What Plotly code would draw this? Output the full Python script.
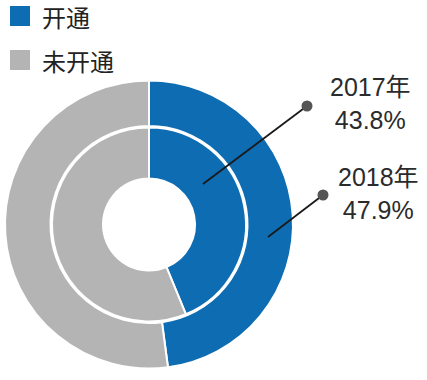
import plotly.graph_objects as go

labels = ["开通", "未开通"]
values_2017 = [43.8, 56.2]
values_2018 = [47.9, 52.1]
years = ["2017年", "2018年"]
colors = ["#0E6CB2", "#B4B4B4"]

W, H = 427, 380
cx, cy = 149, 224.5
r_out, r_mid, r_hole = 144, 97, 46


def px_x(x):
    return x / W


def px_y(y):
    return 1 - y / H


fig = go.Figure()
fig.add_trace(go.Pie(
    labels=labels, values=values_2018, sort=False, direction="clockwise", rotation=0,
    hole=(r_mid + 1.5) / r_out, textinfo="none", hoverinfo="label+percent",
    marker=dict(colors=colors, line=dict(color="white", width=2)),
    domain=dict(x=[px_x(cx - r_out), px_x(cx + r_out)], y=[px_y(cy + r_out), px_y(cy - r_out)]),
    showlegend=False, name="2018",
))
fig.add_trace(go.Pie(
    labels=labels, values=values_2017, sort=False, direction="clockwise", rotation=0,
    hole=r_hole / r_mid, textinfo="none", hoverinfo="label+percent",
    marker=dict(colors=colors, line=dict(color="white", width=2)),
    domain=dict(x=[px_x(cx - r_mid), px_x(cx + r_mid)], y=[px_y(cy + r_mid), px_y(cy - r_mid)]),
    showlegend=False, name="2017",
))

font_fam = "Liberation Sans, Arial, Noto Sans CJK SC, sans-serif"
shapes = []
annotations = []

# legend
for i, (lab, col) in enumerate(zip(labels, colors)):
    y0 = 6 + i * 44
    shapes.append(dict(type="rect", xref="paper", yref="paper",
                       x0=px_x(10), x1=px_x(30), y0=px_y(y0 + 20), y1=px_y(y0),
                       fillcolor=col, line=dict(width=0)))
    annotations.append(dict(xref="paper", yref="paper", x=px_x(40), y=px_y(y0 + 10),
                            xanchor="left", yanchor="middle", showarrow=False, text=lab,
                            font=dict(family="Noto Sans CJK SC, sans-serif", size=24, color="#222222")))

# callouts
callouts = [
    (years[0], values_2017[0], (203, 184), (307, 106), (370, 103)),
    (years[1], values_2018[0], (268, 237), (323, 195), (378, 193)),
]
for yr, v, p0, p1, tpos in callouts:
    shapes.append(dict(type="line", xref="paper", yref="paper",
                       x0=px_x(p0[0]), y0=px_y(p0[1]), x1=px_x(p1[0]), y1=px_y(p1[1]),
                       line=dict(color="#1a1a1a", width=1.8)))
    rd = 5.5
    shapes.append(dict(type="circle", xref="paper", yref="paper",
                       x0=px_x(p1[0] - rd), x1=px_x(p1[0] + rd), y0=px_y(p1[1] + rd), y1=px_y(p1[1] - rd),
                       fillcolor="#555555", line=dict(width=0)))
    annotations.append(dict(xref="paper", yref="paper", x=px_x(tpos[0]), y=px_y(tpos[1]),
                            xanchor="center", yanchor="middle", showarrow=False,
                            text=f"{yr}<br>{v:.1f}%",
                            font=dict(family=font_fam, size=25, color="#2b2b2b")))

fig.update_layout(
    width=W, height=H, margin=dict(l=0, r=0, t=0, b=0),
    paper_bgcolor="white", plot_bgcolor="white",
    shapes=shapes, annotations=annotations,
)
fig.write_html("out.html", config={"displayModeBar": False},
               post_script="document.body.style.margin='0';document.body.style.overflow='hidden';")
